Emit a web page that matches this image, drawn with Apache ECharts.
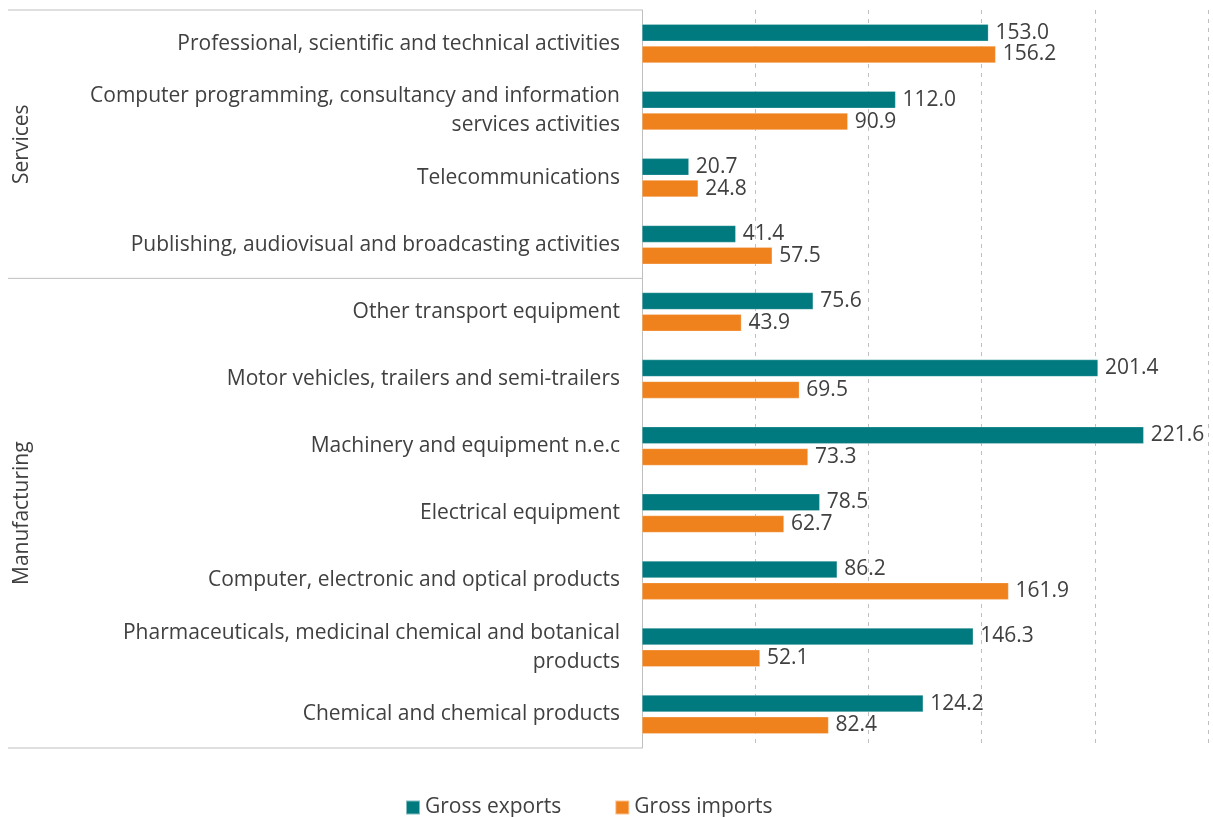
<!DOCTYPE html>
<html>
<head>
<meta charset="utf-8">
<script src="https://cdn.jsdelivr.net/npm/echarts@6/dist/echarts.min.js"></script>
<style>
  html, body { margin: 0; padding: 0; background: #fff; }
  #chart { width: 1213px; height: 817px; }
</style>
</head>
<body>
<div id="chart"></div>
<script>
// categories, top to bottom
const categories = [
  'Professional, scientific and technical activities',
  'Computer programming, consultancy and information\nservices activities',
  'Telecommunications',
  'Publishing, audiovisual and broadcasting activities',
  'Other transport equipment',
  'Motor vehicles, trailers and semi-trailers',
  'Machinery and equipment n.e.c',
  'Electrical equipment',
  'Computer, electronic and optical products',
  'Pharmaceuticals, medicinal chemical and botanical\nproducts',
  'Chemical and chemical products'
]
const grossExports = [153.0, 112.0, 20.7, 41.4, 75.6, 201.4, 221.6, 78.5, 86.2, 146.3, 124.2]
const grossImports = [156.2, 90.9, 24.8, 57.5, 43.9, 69.5, 73.3, 62.7, 161.9, 52.1, 82.4]
// sector groups: name, first index, last index
const groups = [
  {name: 'Services', from: 0, to: 3},
  {name: 'Manufacturing', from: 4, to: 10}
]

const FONT = 'Open Sans'
const TEXT = '#404040'
const LINE = '#bfbfbf'

const chart = echarts.init(document.getElementById('chart'))

const option = {
  animation: false,
  textStyle: {fontFamily: FONT},
  color: ['#007a7f', '#f0821e'],
  grid: {left: 642, right: 5, top: 10, bottom: 69},
  legend: {
    bottom: -6,
    left: 400,
    itemWidth: 14,
    itemHeight: 14,
    itemGap: 53,
    icon: 'rect',
    textStyle: {fontSize: 21, color: TEXT, fontFamily: FONT}
  },
  xAxis: {
    type: 'value',
    min: 0,
    max: 250,
    interval: 50,
    axisLabel: {show: false},
    axisLine: {show: false},
    axisTick: {show: false},
    splitLine: {lineStyle: {type: [4, 5], color: LINE, width: 1}}
  },
  yAxis: {
    type: 'category',
    inverse: true,
    data: categories,
    axisLine: {lineStyle: {color: LINE}},
    axisTick: {show: false},
    axisLabel: {
      fontSize: 21,
      color: TEXT,
      margin: 22,
      lineHeight: 29,
      align: 'right'
    }
  },
  series: [
    {
      name: 'Gross exports',
      type: 'bar',
      data: grossExports,
      barWidth: 17,
      barGap: '28%',
      itemStyle: {borderColor: 'rgba(255,255,255,0.5)', borderWidth: 0.5},
      label: {show: true, position: 'right', distance: 7, fontSize: 21, color: TEXT,
        formatter: p => p.value.toFixed(1)}
    },
    {
      name: 'Gross imports',
      type: 'bar',
      data: grossImports,
      barWidth: 17,
      itemStyle: {borderColor: 'rgba(255,255,255,0.5)', borderWidth: 0.5},
      label: {show: true, position: 'right', distance: 7, fontSize: 21, color: TEXT,
        formatter: p => p.value.toFixed(1)}
    }
  ]
}
chart.setOption(option)

// group frame lines and rotated group names
const drawGroups = () => {
  const x0 = chart.convertToPixel({xAxisIndex: 0}, 0)
  const c0 = chart.convertToPixel({yAxisIndex: 0}, 0)
  const c1 = chart.convertToPixel({yAxisIndex: 0}, 1)
  const band = c1 - c0
  const elements = []
  const edge = i => c0 + (i - 0.5) * band
  const bounds = [edge(0)]
  groups.forEach(g => bounds.push(edge(g.to + 1)))
  bounds.forEach(y => {
    elements.push({
      type: 'line', shape: {x1: 8, y1: y, x2: x0, y2: y},
      style: {stroke: LINE, lineWidth: 1}
    })
  })
  groups.forEach(g => {
    const mid = (edge(g.from) + edge(g.to + 1)) / 2
    elements.push({
      type: 'text', x: 22, y: mid, rotation: Math.PI / 2,
      style: {text: g.name, fontSize: 21, fontFamily: FONT, fill: TEXT,
        align: 'center', verticalAlign: 'middle'}
    })
  })
  chart.setOption({graphic: elements})
}
drawGroups()
</script>
</body>
</html>
